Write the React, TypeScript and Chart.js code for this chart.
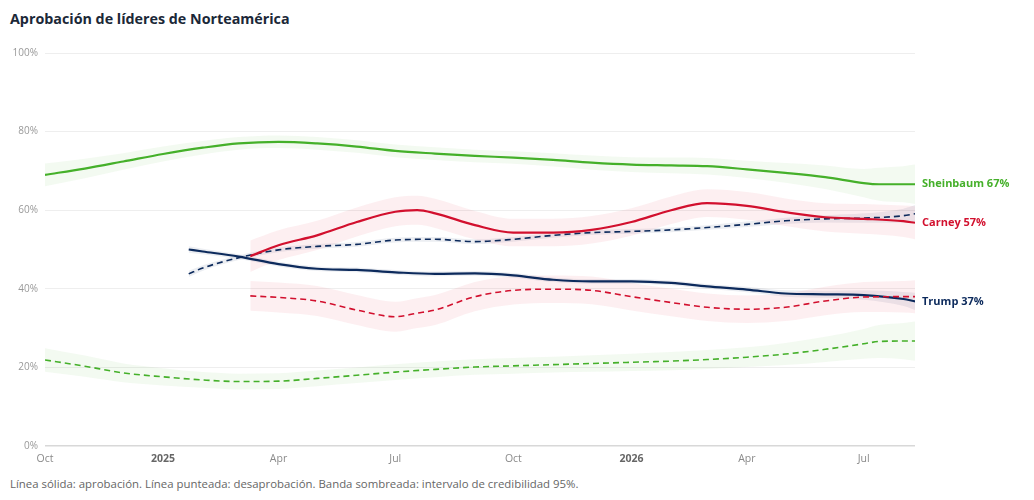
import React, { useEffect, useRef } from 'react';
import { Chart, registerables } from 'chart.js';

Chart.register(...registerables);

const FONT = '"Open Sans", "Liberation Sans", sans-serif';

// Day offsets since 1 Oct 2024
const X_MIN = 0;
const X_MAX = 678;
const X_TICK_DAYS = [0, 92, 182, 273, 365, 457, 547, 638];
const X_TICK_LABELS = ['Oct', '2025', 'Apr', 'Jul', 'Oct', '2026', 'Apr', 'Jul'];
const X_TICK_YEAR = [false, true, false, false, false, true, false, false];
const Y_TICKS = [0, 20, 40, 60, 80, 100];

// Sheinbaum
const G_DAYS = [0, 31, 61, 92, 123, 151, 182, 212, 243, 273, 304, 335, 365, 396, 426, 457, 488, 516, 547, 577, 608, 638, 650, 669, 678];
const SHEIN_APPROVE = [69.0, 70.6, 72.4, 74.3, 75.9, 77.0, 77.4, 77.0, 76.2, 75.1, 74.4, 73.8, 73.4, 72.8, 72.1, 71.6, 71.4, 71.2, 70.4, 69.5, 68.4, 66.9, 66.6, 66.6, 66.6];
const SHEIN_APPROVE_MOE = [2.9, 2.5, 2.1, 1.9, 1.7, 1.6, 1.6, 1.6, 1.6, 1.6, 1.6, 1.6, 1.6, 1.7, 1.8, 1.9, 2.0, 2.1, 2.2, 2.5, 3.0, 3.6, 4.2, 4.6, 5.0];
const SHEIN_DISAPPROVE = [21.9, 20.3, 18.6, 17.6, 16.8, 16.4, 16.5, 17.2, 18.0, 18.8, 19.5, 20.1, 20.4, 20.7, 21.0, 21.3, 21.6, 22.0, 22.6, 23.4, 24.6, 26.0, 26.6, 26.7, 26.7];
const SHEIN_DISAPPROVE_MOE = [3.0, 2.7, 2.4, 2.2, 2.0, 2.0, 2.0, 2.0, 2.0, 2.0, 2.0, 2.0, 2.0, 2.0, 2.1, 2.2, 2.3, 2.4, 2.5, 2.8, 3.2, 3.8, 4.2, 4.6, 5.0];

// Trump
const T_DAYS = [112, 123, 151, 182, 212, 243, 273, 304, 335, 365, 396, 426, 457, 488, 516, 547, 577, 608, 638, 669, 678];
const TRUMP_APPROVE = [50.0, 49.5, 48.2, 46.3, 45.1, 44.8, 44.2, 43.8, 43.9, 43.4, 42.3, 41.9, 41.9, 41.5, 40.6, 39.8, 38.8, 38.6, 38.4, 37.4, 36.8];
const TRUMP_APPROVE_MOE = [0.8, 0.7, 0.6, 0.6, 0.6, 0.6, 0.6, 0.6, 0.6, 0.6, 0.6, 0.6, 0.6, 0.6, 0.6, 0.7, 0.8, 0.9, 1.2, 1.8, 2.2];
const TRUMP_DISAPPROVE = [43.8, 45.3, 47.9, 49.9, 50.8, 51.3, 52.4, 52.6, 52.0, 52.6, 53.6, 54.3, 54.6, 55.0, 55.6, 56.4, 57.3, 57.8, 58.0, 58.6, 59.1];
const TRUMP_DISAPPROVE_MOE = [0.8, 0.7, 0.6, 0.6, 0.6, 0.6, 0.6, 0.6, 0.6, 0.6, 0.6, 0.6, 0.6, 0.6, 0.6, 0.7, 0.8, 0.9, 1.2, 1.8, 2.2];

// Carney
const C_DAYS = [160, 182, 212, 243, 273, 290, 304, 335, 365, 396, 426, 457, 488, 516, 547, 577, 608, 638, 669, 678];
const CARNEY_APPROVE = [48.3, 51.1, 53.6, 57.0, 59.6, 60.0, 59.2, 56.2, 54.3, 54.3, 55.0, 57.0, 60.0, 61.8, 61.1, 59.5, 58.2, 57.8, 57.2, 56.8];
const CARNEY_APPROVE_MOE = [4.0, 3.8, 3.7, 3.7, 3.7, 3.7, 3.7, 3.6, 3.5, 3.5, 3.5, 3.5, 3.5, 3.5, 3.5, 3.5, 3.6, 3.8, 4.0, 4.2];
const CARNEY_DISAPPROVE = [38.2, 37.8, 36.9, 34.6, 32.9, 33.8, 34.6, 38.0, 39.6, 39.9, 39.6, 38.0, 36.5, 35.3, 34.8, 35.3, 36.9, 37.9, 38.0, 38.0];
const CARNEY_DISAPPROVE_MOE = [3.8, 3.8, 3.8, 3.8, 3.8, 3.8, 3.8, 3.7, 3.6, 3.5, 3.5, 3.5, 3.5, 3.5, 3.5, 3.5, 3.6, 3.8, 4.0, 4.2];

const GREEN = '#45b02a';
const RED = '#d2102e';
const NAVY = '#0c2a5c';
const GREEN_BAND = 'rgba(69,176,42,0.065)';
const RED_BAND = 'rgba(226,40,70,0.075)';
const NAVY_BAND = 'rgba(12,42,92,0.08)';

const pts = (days: number[], vals: number[]) => days.map((d, i) => ({ x: d, y: vals[i] }));
const ptsOff = (days: number[], vals: number[], moe: number[], sign: number) =>
  days.map((d, i) => ({ x: d, y: vals[i] + sign * moe[i] }));

function lineDs(label: string, days: number[], vals: number[], color: string, dashed: boolean) {
  return {
    label,
    data: pts(days, vals),
    borderColor: color,
    backgroundColor: color,
    borderWidth: dashed ? 1.6 : 2.2,
    borderDash: dashed ? [6, 4] : [],
    pointRadius: 0,
    cubicInterpolationMode: 'monotone',
    fill: false,
    order: 0,
  };
}

function bandDs(days: number[], vals: number[], moe: number[], color: string) {
  return [
    {
      label: 'hi',
      data: ptsOff(days, vals, moe, 1),
      borderWidth: 0,
      borderColor: 'transparent',
      backgroundColor: color,
      pointRadius: 0,
      cubicInterpolationMode: 'monotone',
      fill: '+1',
      order: 5,
    },
    {
      label: 'lo',
      data: ptsOff(days, vals, moe, -1),
      borderWidth: 0,
      borderColor: 'transparent',
      backgroundColor: color,
      pointRadius: 0,
      cubicInterpolationMode: 'monotone',
      fill: false,
      order: 5,
    },
  ];
}

const END_LABELS = [
  { index: 0, name: 'Sheinbaum', color: GREEN, values: SHEIN_APPROVE },
  { index: 2, name: 'Carney', color: RED, values: CARNEY_APPROVE },
  { index: 4, name: 'Trump', color: NAVY, values: TRUMP_APPROVE },
];

const endLabelPlugin = {
  id: 'endLabels',
  afterDatasetsDraw(chart: any) {
    const { ctx, chartArea } = chart;
    ctx.save();
    ctx.font = `bold 11px ${FONT}`;
    ctx.textBaseline = 'middle';
    ctx.textAlign = 'left';
    END_LABELS.forEach((l) => {
      const meta = chart.getDatasetMeta(l.index);
      const last = meta.data[meta.data.length - 1];
      if (!last) return;
      ctx.fillStyle = l.color;
      ctx.fillText(`${l.name} ${Math.round(l.values[l.values.length - 1])}%`, chartArea.right + 7, last.y);
    });
    ctx.restore();
  },
};

export default function App() {
  const canvasRef = useRef<HTMLCanvasElement | null>(null);

  useEffect(() => {
    if (!canvasRef.current) return;
    const datasets: any[] = [
      lineDs('Sheinbaum aprobación', G_DAYS, SHEIN_APPROVE, GREEN, false),
      lineDs('Sheinbaum desaprobación', G_DAYS, SHEIN_DISAPPROVE, GREEN, true),
      lineDs('Carney aprobación', C_DAYS, CARNEY_APPROVE, RED, false),
      lineDs('Carney desaprobación', C_DAYS, CARNEY_DISAPPROVE, RED, true),
      lineDs('Trump aprobación', T_DAYS, TRUMP_APPROVE, NAVY, false),
      lineDs('Trump desaprobación', T_DAYS, TRUMP_DISAPPROVE, NAVY, true),
      ...bandDs(G_DAYS, SHEIN_APPROVE, SHEIN_APPROVE_MOE, GREEN_BAND),
      ...bandDs(G_DAYS, SHEIN_DISAPPROVE, SHEIN_DISAPPROVE_MOE, GREEN_BAND),
      ...bandDs(C_DAYS, CARNEY_APPROVE, CARNEY_APPROVE_MOE, RED_BAND),
      ...bandDs(C_DAYS, CARNEY_DISAPPROVE, CARNEY_DISAPPROVE_MOE, RED_BAND),
      ...bandDs(T_DAYS, TRUMP_APPROVE, TRUMP_APPROVE_MOE, NAVY_BAND),
      ...bandDs(T_DAYS, TRUMP_DISAPPROVE, TRUMP_DISAPPROVE_MOE, NAVY_BAND),
    ];

    const chart = new Chart(canvasRef.current, {
      type: 'line',
      data: { datasets },
      plugins: [endLabelPlugin],
      options: {
        animation: false,
        responsive: true,
        maintainAspectRatio: false,
        layout: { padding: { left: 10, right: 119, top: 23, bottom: 0 } },
        plugins: { legend: { display: false }, tooltip: { enabled: false } },
        scales: {
          x: {
            type: 'linear',
            min: X_MIN,
            max: X_MAX,
            grid: { display: false, drawTicks: false },
            border: { display: false },
            afterBuildTicks: (s: any) => {
              s.ticks = X_TICK_DAYS.map((v) => ({ value: v }));
            },
            afterFit: (s: any) => {
              s.height = 24;
            },
            ticks: {
              autoSkip: false,
              maxRotation: 0,
              padding: 7,
              callback: (v: any) => {
                const i = X_TICK_DAYS.indexOf(Number(v));
                return i >= 0 ? X_TICK_LABELS[i] : '';
              },
              color: (c: any) => {
                const i = X_TICK_DAYS.indexOf(c.tick?.value);
                return i >= 0 && X_TICK_YEAR[i] ? '#666666' : '#8a8a8a';
              },
              font: (c: any) => {
                const i = X_TICK_DAYS.indexOf(c.tick?.value);
                return { family: FONT, size: 10.5, weight: i >= 0 && X_TICK_YEAR[i] ? 'bold' : 'normal' };
              },
            },
          },
          y: {
            min: 0,
            max: 100,
            afterBuildTicks: (s: any) => {
              s.ticks = Y_TICKS.map((v) => ({ value: v }));
            },
            afterFit: (s: any) => {
              s.width = 35;
            },
            grid: {
              drawTicks: false,
              color: (c: any) => (c.tick && c.tick.value === 0 ? '#d8d8d8' : '#eeeeee'),
              lineWidth: (c: any) => (c.tick && c.tick.value === 0 ? 1.5 : 1),
            },
            border: { display: false },
            ticks: {
              padding: 7,
              color: '#999999',
              font: { family: FONT, size: 10 },
              callback: (v: any) => `${v}%`,
            },
          },
        },
      } as any,
    });
    return () => chart.destroy();
  }, []);

  return (
    <div style={{ position: 'absolute', left: 0, top: 0, width: 1034, height: 500, background: '#ffffff', overflow: 'hidden' }}>
      <div
        style={{
          position: 'absolute',
          left: 10,
          top: 9,
          fontFamily: FONT,
          fontSize: 14.3,
          fontWeight: 700,
          color: '#1b2838',
          lineHeight: '20px',
          whiteSpace: 'nowrap',
        }}
      >
        Aprobación de líderes de Norteamérica
      </div>
      <div style={{ position: 'absolute', left: 0, top: 30, width: 1034, height: 440 }}>
        <canvas ref={canvasRef} />
      </div>
      <div
        style={{
          position: 'absolute',
          left: 10,
          top: 477,
          fontFamily: FONT,
          fontSize: 11.4,
          color: '#666666',
          lineHeight: '14px',
          whiteSpace: 'nowrap',
        }}
      >
        Línea sólida: aprobación. Línea punteada: desaprobación. Banda sombreada: intervalo de credibilidad 95%.
      </div>
    </div>
  );
}
